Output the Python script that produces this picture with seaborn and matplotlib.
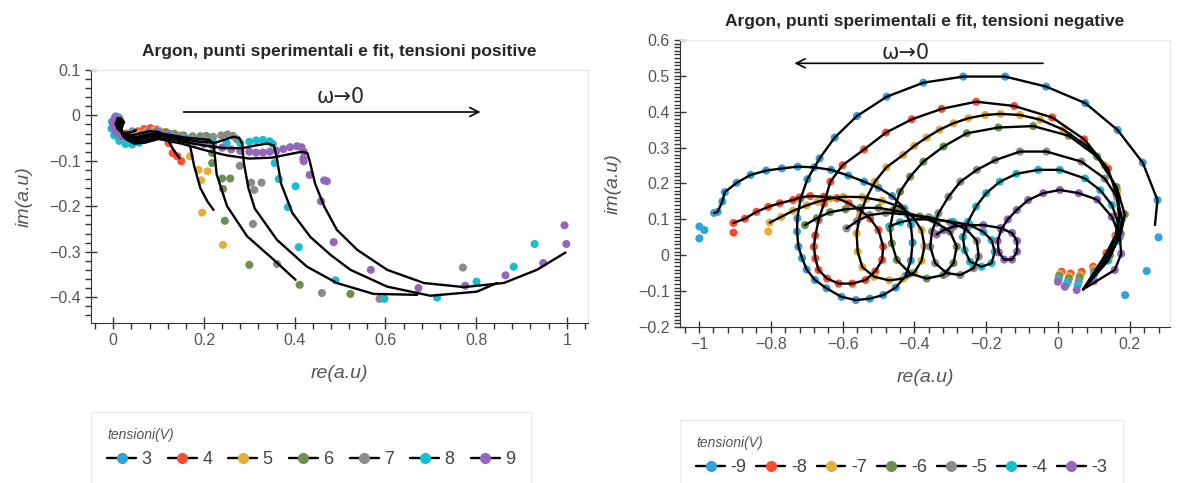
import pandas as pd
import matplotlib
matplotlib.use("Agg")
import matplotlib.pyplot as plt
import matplotlib.ticker as mtick
from matplotlib.lines import Line2D
import seaborn as sns

# holoviews colour cycle
colori = ['#30a2da', '#fc4f30', '#e5ae38', '#6d904f', '#8b8b8b', '#17becf', '#9467bd']
tens_pos = ['3', '4', '5', '6', '7', '8', '9']
tens_neg = ['-9', '-8', '-7', '-6', '-5', '-4', '-3']

# ---- tensioni positive, punti sperimentali (re, im)
p3 = [(0.004, -0.006), (0.000, -0.016), (0.001, -0.027), (0.008, -0.036), (0.018, -0.041),
      (0.030, -0.040), (0.042, -0.035)]
p4 = [(0.010, -0.004), (0.004, -0.014), (0.006, -0.026), (0.014, -0.036), (0.026, -0.041),
      (0.040, -0.040), (0.054, -0.035), (0.068, -0.030), (0.082, -0.028), (0.095, -0.031),
      (0.108, -0.038), (0.119, -0.046), (0.122, -0.061), (0.131, -0.083), (0.141, -0.090),
      (0.150, -0.101)]
p5 = [(0.012, -0.004), (0.005, -0.015), (0.006, -0.028), (0.015, -0.039), (0.028, -0.045),
      (0.043, -0.045), (0.058, -0.040), (0.073, -0.035), (0.088, -0.033), (0.103, -0.034),
      (0.118, -0.037), (0.133, -0.040), (0.147, -0.044), (0.158, -0.050), (0.163, -0.058),
      (0.169, -0.090), (0.188, -0.120), (0.208, -0.123), (0.194, -0.143), (0.196, -0.214),
      (0.242, -0.285)]
p6 = [(0.013, -0.006), (0.006, -0.017), (0.007, -0.030), (0.016, -0.042), (0.030, -0.048),
      (0.046, -0.047), (0.062, -0.042), (0.078, -0.037), (0.095, -0.035), (0.115, -0.037),
      (0.135, -0.041), (0.155, -0.044), (0.175, -0.046), (0.192, -0.046), (0.205, -0.045),
      (0.214, -0.050), (0.218, -0.065), (0.218, -0.083), (0.218, -0.105), (0.240, -0.139),
      (0.258, -0.139), (0.242, -0.162), (0.246, -0.232), (0.300, -0.329), (0.411, -0.373),
      (0.523, -0.393)]
p7 = [(0.014, -0.008), (0.006, -0.019), (0.008, -0.033), (0.018, -0.045), (0.033, -0.051),
      (0.050, -0.050), (0.066, -0.045), (0.082, -0.040), (0.100, -0.038), (0.125, -0.041),
      (0.150, -0.045), (0.175, -0.048), (0.200, -0.049), (0.220, -0.047), (0.238, -0.044),
      (0.252, -0.042), (0.264, -0.045), (0.272, -0.052), (0.279, -0.111), (0.304, -0.148),
      (0.311, -0.164), (0.327, -0.148), (0.308, -0.239), (0.361, -0.327), (0.460, -0.391),
      (0.587, -0.404), (0.771, -0.335)]
p8 = [(0.006, -0.002), (-0.003, -0.014), (-0.004, -0.029), (0.002, -0.044), (0.013, -0.056),
      (0.027, -0.063), (0.042, -0.064), (0.057, -0.060), (0.072, -0.053), (0.088, -0.046),
      (0.105, -0.042), (0.130, -0.045), (0.160, -0.050), (0.190, -0.055), (0.220, -0.059),
      (0.250, -0.061), (0.280, -0.061), (0.300, -0.058), (0.315, -0.055), (0.330, -0.054),
      (0.345, -0.057), (0.352, -0.063), (0.356, -0.105), (0.365, -0.140), (0.402, -0.156),
      (0.385, -0.202), (0.409, -0.290), (0.490, -0.363), (0.598, -0.404), (0.714, -0.401),
      (0.801, -0.366), (0.883, -0.333), (0.929, -0.283)]
p9 = [(0.004, -0.004), (-0.001, -0.014), (0.000, -0.026), (0.007, -0.038), (0.018, -0.046),
      (0.032, -0.050), (0.047, -0.049), (0.062, -0.043), (0.078, -0.036), (0.100, -0.036),
      (0.120, -0.041), (0.140, -0.047), (0.160, -0.053), (0.180, -0.058), (0.200, -0.063),
      (0.220, -0.067), (0.240, -0.071), (0.260, -0.075), (0.280, -0.078), (0.300, -0.080),
      (0.315, -0.082), (0.330, -0.082), (0.345, -0.080), (0.360, -0.078), (0.375, -0.074),
      (0.390, -0.070), (0.405, -0.068), (0.415, -0.070), (0.420, -0.080), (0.419, -0.095),
      (0.420, -0.101), (0.433, -0.131), (0.465, -0.143), (0.471, -0.145), (0.458, -0.189),
      (0.486, -0.279), (0.568, -0.340), (0.673, -0.380), (0.776, -0.375), (0.865, -0.352),
      (0.948, -0.325), (0.999, -0.283), (0.995, -0.242)]

# ---- tensioni positive, fit
f3 = [(0.010, -0.006), (0.005, -0.018), (0.010, -0.030), (0.022, -0.038), (0.036, -0.038),
      (0.050, -0.033)]
f4 = [(0.014, -0.006), (0.008, -0.018), (0.012, -0.031), (0.024, -0.041), (0.040, -0.044),
      (0.058, -0.040), (0.078, -0.035), (0.098, -0.036), (0.112, -0.042), (0.120, -0.052),
      (0.128, -0.068), (0.137, -0.082), (0.146, -0.094)]
f5 = [(0.016, -0.006), (0.010, -0.020), (0.016, -0.035), (0.030, -0.046), (0.050, -0.048),
      (0.075, -0.042), (0.100, -0.040), (0.125, -0.043), (0.148, -0.048), (0.163, -0.053),
      (0.170, -0.070), (0.178, -0.110), (0.192, -0.160), (0.208, -0.190), (0.221, -0.208)]
f6 = [(0.018, -0.008), (0.012, -0.022), (0.018, -0.038), (0.033, -0.049), (0.055, -0.050),
      (0.080, -0.044), (0.110, -0.042), (0.140, -0.046), (0.170, -0.050), (0.195, -0.052),
      (0.212, -0.054), (0.221, -0.062), (0.224, -0.090), (0.228, -0.130), (0.251, -0.200),
      (0.295, -0.266), (0.354, -0.318), (0.402, -0.362)]
f7 = [(0.020, -0.010), (0.014, -0.025), (0.020, -0.042), (0.036, -0.053), (0.058, -0.054),
      (0.085, -0.047), (0.115, -0.046), (0.150, -0.052), (0.190, -0.058), (0.225, -0.060),
      (0.250, -0.052), (0.265, -0.047), (0.278, -0.050), (0.284, -0.062), (0.288, -0.105),
      (0.298, -0.160), (0.312, -0.205), (0.361, -0.274), (0.427, -0.333), (0.493, -0.369),
      (0.574, -0.393), (0.670, -0.395)]
f8 = [(0.022, -0.012), (0.016, -0.028), (0.022, -0.046), (0.040, -0.058), (0.064, -0.058),
      (0.092, -0.050), (0.125, -0.052), (0.165, -0.060), (0.205, -0.067), (0.245, -0.072),
      (0.285, -0.072), (0.315, -0.066), (0.340, -0.062), (0.354, -0.066), (0.360, -0.090),
      (0.370, -0.150), (0.395, -0.215), (0.435, -0.268), (0.479, -0.307), (0.523, -0.340),
      (0.604, -0.377), (0.699, -0.397), (0.802, -0.388), (0.846, -0.369)]
f9 = [(0.024, -0.014), (0.018, -0.030), (0.025, -0.050), (0.045, -0.062), (0.070, -0.060),
      (0.100, -0.052), (0.150, -0.062), (0.200, -0.076), (0.250, -0.088), (0.300, -0.095),
      (0.350, -0.093), (0.390, -0.085), (0.415, -0.080), (0.428, -0.083), (0.433, -0.100),
      (0.445, -0.150), (0.465, -0.200), (0.493, -0.252), (0.538, -0.296), (0.604, -0.340),
      (0.685, -0.369), (0.773, -0.378), (0.861, -0.369), (0.934, -0.340), (0.997, -0.302)]

# ---- tensioni negative, punti sperimentali (alta -> bassa frequenza)
n9 = [(0.187, -0.111), (0.247, -0.044), (0.280, 0.050), (0.277, 0.154), (0.236, 0.258),
      (0.166, 0.349), (0.076, 0.424), (-0.033, 0.470), (-0.147, 0.498), (-0.264, 0.498),
      (-0.375, 0.481), (-0.477, 0.442), (-0.560, 0.388), (-0.622, 0.328), (-0.664, 0.270),
      (-0.698, 0.212), (-0.717, 0.158), (-0.726, 0.103), (-0.727, 0.066), (-0.723, 0.024),
      (-0.713, -0.008), (-0.700, -0.040), (-0.677, -0.069), (-0.645, -0.092), (-0.603, -0.116),
      (-0.563, -0.125), (-0.524, -0.121), (-0.487, -0.111), (-0.452, -0.090), (-0.425, -0.058),
      (-0.410, -0.015), (-0.405, 0.035), (-0.410, 0.085), (-0.428, 0.130), (-0.462, 0.165),
      (-0.500, 0.188), (-0.540, 0.205), (-0.584, 0.222), (-0.632, 0.238), (-0.679, 0.245),
      (-0.725, 0.247), (-0.769, 0.242), (-0.813, 0.236), (-0.856, 0.224), (-0.895, 0.202),
      (-0.928, 0.176), (-0.935, 0.150), (-0.948, 0.121), (-0.958, 0.118), (-0.999, 0.080),
      (-0.985, 0.070), (-0.999, 0.047)]
n8 = [(0.010, -0.046), (0.035, -0.051), (0.066, -0.046), (0.098, -0.032), (0.135, 0.006),
      (0.160, 0.055), (0.170, 0.110), (0.163, 0.170), (0.139, 0.242), (0.073, 0.323),
      (-0.016, 0.384), (-0.122, 0.416), (-0.228, 0.428), (-0.324, 0.408), (-0.407, 0.379),
      (-0.479, 0.342), (-0.540, 0.295), (-0.600, 0.251), (-0.634, 0.205), (-0.652, 0.144),
      (-0.667, 0.098), (-0.676, 0.055), (-0.680, 0.024), (-0.676, -0.009), (-0.667, -0.041),
      (-0.643, -0.065), (-0.611, -0.079), (-0.573, -0.079), (-0.536, -0.069), (-0.509, -0.045),
      (-0.490, -0.013), (-0.487, 0.024), (-0.500, 0.070), (-0.523, 0.102), (-0.551, 0.126),
      (-0.583, 0.145), (-0.616, 0.159), (-0.652, 0.163), (-0.690, 0.165), (-0.720, 0.161),
      (-0.738, 0.154), (-0.775, 0.145), (-0.807, 0.135), (-0.840, 0.121), (-0.872, 0.102),
      (-0.904, 0.090), (-0.904, 0.063)]
n7 = [(0.005, -0.052), (0.032, -0.058), (0.063, -0.054), (0.100, -0.038), (0.140, 0.000),
      (0.163, 0.055), (0.172, 0.115), (0.165, 0.180), (0.130, 0.250), (0.080, 0.305),
      (0.015, 0.350), (-0.050, 0.378), (-0.106, 0.391), (-0.160, 0.394), (-0.203, 0.391),
      (-0.250, 0.382), (-0.291, 0.368), (-0.330, 0.350), (-0.366, 0.328), (-0.400, 0.305),
      (-0.431, 0.280), (-0.478, 0.245), (-0.510, 0.205), (-0.535, 0.157), (-0.552, 0.110),
      (-0.561, 0.061), (-0.558, 0.010), (-0.545, -0.033), (-0.512, -0.060), (-0.470, -0.070),
      (-0.431, -0.065), (-0.400, -0.048), (-0.380, -0.015), (-0.372, 0.025), (-0.380, 0.070),
      (-0.405, 0.108), (-0.440, 0.135), (-0.490, 0.152), (-0.545, 0.162), (-0.598, 0.163),
      (-0.635, 0.158), (-0.670, 0.149), (-0.700, 0.139), (-0.738, 0.124), (-0.771, 0.107),
      (-0.803, 0.091), (-0.807, 0.066)]
n6 = [(0.003, -0.058), (0.030, -0.065), (0.060, -0.062), (0.100, -0.045), (0.145, 0.000),
      (0.175, 0.060), (0.186, 0.114), (0.163, 0.190), (0.109, 0.275), (0.030, 0.333),
      (-0.069, 0.360), (-0.166, 0.356), (-0.254, 0.340), (-0.319, 0.303), (-0.375, 0.261),
      (-0.412, 0.219), (-0.440, 0.177), (-0.458, 0.126), (-0.468, 0.075), (-0.463, 0.033),
      (-0.449, -0.013), (-0.412, -0.051), (-0.366, -0.065), (-0.319, -0.055), (-0.291, -0.022),
      (-0.282, 0.024), (-0.301, 0.066), (-0.338, 0.090), (-0.385, 0.108), (-0.440, 0.122),
      (-0.500, 0.132), (-0.550, 0.132), (-0.592, 0.128), (-0.635, 0.120), (-0.672, 0.103),
      (-0.705, 0.084)]
n5 = [(0.002, -0.064), (0.028, -0.072), (0.058, -0.072), (0.100, -0.050), (0.140, -0.010),
      (0.168, 0.045), (0.178, 0.100), (0.165, 0.160), (0.130, 0.214), (0.065, 0.261),
      (-0.032, 0.289), (-0.106, 0.289), (-0.175, 0.265), (-0.226, 0.238), (-0.272, 0.205),
      (-0.305, 0.163), (-0.333, 0.117), (-0.351, 0.066), (-0.356, 0.024), (-0.342, -0.022),
      (-0.310, -0.050), (-0.272, -0.055), (-0.235, -0.036), (-0.221, -0.004), (-0.226, 0.040),
      (-0.255, 0.072), (-0.300, 0.092), (-0.360, 0.106), (-0.420, 0.114), (-0.480, 0.118),
      (-0.525, 0.112), (-0.560, 0.095), (-0.589, 0.075)]
n4 = [(0.001, -0.069), (0.024, -0.080), (0.055, -0.083), (0.100, -0.055), (0.140, -0.015),
      (0.165, 0.040), (0.168, 0.090), (0.150, 0.140), (0.118, 0.181), (0.075, 0.214),
      (0.005, 0.238), (-0.055, 0.238), (-0.116, 0.227), (-0.162, 0.205), (-0.200, 0.173),
      (-0.228, 0.136), (-0.251, 0.093), (-0.265, 0.051), (-0.260, 0.014), (-0.245, -0.018),
      (-0.213, -0.032), (-0.185, -0.022), (-0.176, 0.010), (-0.185, 0.042), (-0.208, 0.065),
      (-0.245, 0.084), (-0.292, 0.093), (-0.348, 0.100), (-0.404, 0.100), (-0.440, 0.092),
      (-0.470, 0.080)]
n3 = [(0.000, -0.074), (0.019, -0.088), (0.052, -0.097), (0.100, -0.072), (0.158, -0.041),
      (0.176, 0.004), (0.172, 0.052), (0.150, 0.107), (0.109, 0.155), (0.058, 0.173),
      (0.005, 0.182), (-0.041, 0.173), (-0.083, 0.154), (-0.115, 0.126), (-0.140, 0.100),
      (-0.158, 0.072), (-0.168, 0.040), (-0.165, 0.008), (-0.150, -0.012), (-0.128, -0.012),
      (-0.114, 0.010), (-0.114, 0.040), (-0.128, 0.062), (-0.160, 0.076), (-0.208, 0.084),
      (-0.254, 0.084), (-0.291, 0.080), (-0.319, 0.070), (-0.338, 0.058)]

# fit (negative): passes through the points, starts where the curves join
fit_inizio = (0.070, -0.095)
fit_inizio_n9 = (0.270, 0.084)
fit_tratto = {'-9': (3, -3), '-8': (4, -1), '-7': (4, -1), '-6': (4, None),
              '-5': (4, None), '-4': (4, None), '-3': (4, None)}


def tabella(serie, etichette):
    righe = []
    for lab, pts in zip(etichette, serie):
        for k, (r, i) in enumerate(pts):
            righe.append((lab, k, r, i))
    return pd.DataFrame(righe, columns=['tensione', 'k', 're', 'im'])


pos_df = tabella([p3, p4, p5, p6, p7, p8, p9], tens_pos)
pos_fit = tabella([f3, f4, f5, f6, f7, f8, f9], tens_pos)
neg_serie = [n9, n8, n7, n6, n5, n4, n3]
neg_df = tabella(neg_serie, tens_neg)
neg_fit_pts = []
for lab, pts in zip(tens_neg, neg_serie):
    a, b = fit_tratto[lab]
    testa = fit_inizio_n9 if lab == '-9' else fit_inizio
    neg_fit_pts.append([testa] + pts[a:b])
neg_fit = tabella(neg_fit_pts, tens_neg)

sns.set_style('ticks')
plt.rcParams['font.family'] = ['Liberation Sans', 'DejaVu Sans']

fig = plt.figure(figsize=(11.84, 4.83), dpi=100)
ax1 = fig.add_axes([0.0769, 0.3313, 0.4198, 0.5238])
ax2 = fig.add_axes([0.5743, 0.3230, 0.4139, 0.5942])


def fmt(v, pos):
    if abs(v) < 1e-9:
        return '0'
    return ('%g' % round(v, 6)).replace('-', '\u2212')


for ax, pts, fit, tens in [(ax1, pos_df, pos_fit, tens_pos), (ax2, neg_df, neg_fit, tens_neg)]:
    sns.scatterplot(data=pts, x='re', y='im', hue='tensione', hue_order=tens,
                    palette=colori, s=34, linewidth=0, legend=False, ax=ax, zorder=2)
    sns.lineplot(data=fit, x='re', y='im', units='tensione', estimator=None, sort=False,
                 color='black', lw=1.7, ax=ax, zorder=3)
    for s in ['top', 'right']:
        ax.spines[s].set_color('#e6e6e6')
    for s in ['left', 'bottom']:
        ax.spines[s].set_color('#333333')
    ax.xaxis.set_major_formatter(mtick.FuncFormatter(fmt))
    ax.yaxis.set_major_formatter(mtick.FuncFormatter(fmt))
    ax.tick_params(which='major', direction='inout', length=8, width=1, color='#333333',
                   labelsize=11.5, labelcolor='#555555')
    ax.tick_params(which='minor', direction='out', length=4, width=1, color='#333333')
    ax.set_xlabel('re(a.u)', fontsize=14, style='italic', color='#555555', labelpad=12)
    ax.set_ylabel('im(a.u)', fontsize=14, style='italic', color='#555555', labelpad=12)

ax1.set_xlim(-0.049, 1.047)
ax1.set_ylim(-0.457, 0.1)
ax1.xaxis.set_major_locator(mtick.MultipleLocator(0.2))
ax1.yaxis.set_major_locator(mtick.MultipleLocator(0.1))
ax1.xaxis.set_minor_locator(mtick.AutoMinorLocator(5))
ax1.yaxis.set_minor_locator(mtick.AutoMinorLocator(5))
ax1.set_title('Argon, punti sperimentali e fit, tensioni positive', fontsize=12.5,
              fontweight='bold', pad=10)
ax1.annotate('', xy=(0.816, 0.0075), xytext=(0.149, 0.0075),
             arrowprops=dict(arrowstyle='->', lw=1.2, color='black', mutation_scale=16))
ax1.text(0.502, 0.040, '\u03c9\u21920', ha='center', va='center', fontsize=15,
         family='DejaVu Sans')

ax2.set_xlim(-1.053, 0.312)
ax2.set_ylim(-0.2, 0.6)
ax2.xaxis.set_major_locator(mtick.MultipleLocator(0.2))
ax2.yaxis.set_major_locator(mtick.MultipleLocator(0.1))
ax2.xaxis.set_minor_locator(mtick.AutoMinorLocator(5))
ax2.yaxis.set_minor_locator(mtick.AutoMinorLocator(10))
ax2.set_title('Argon, punti sperimentali e fit, tensioni negative', fontsize=12.5,
              fontweight='bold', pad=10)
ax2.annotate('', xy=(-0.742, 0.535), xytext=(-0.034, 0.535),
             arrowprops=dict(arrowstyle='->', lw=1.2, color='black', mutation_scale=16))
ax2.text(-0.425, 0.565, '\u03c9\u21920', ha='center', va='center', fontsize=15,
         family='DejaVu Sans')

for tens, anchor, cs in [(tens_pos, (0.0769, 0.147), 0.9), (tens_neg, (0.5743, 0.130), 0.55)]:
    maniglie = [Line2D([0], [0], color='black', lw=1.7, marker='o', ms=7,
                       markerfacecolor=c, markeredgecolor=c) for c in colori]
    leg = fig.legend(maniglie, tens, loc='upper left', bbox_to_anchor=anchor, ncol=7,
                     title='tensioni(V)', fontsize=13, labelcolor='#444444',
                     title_fontproperties={'size': 10, 'style': 'italic'},
                     handlelength=1.6, handletextpad=0.3, columnspacing=cs,
                     borderpad=0.9, borderaxespad=0, frameon=True, fancybox=False,
                     edgecolor='#e6e6e6', alignment='left')
    leg.get_title().set_color('#555555')

fig.savefig('out.png', dpi=100, facecolor='white')
